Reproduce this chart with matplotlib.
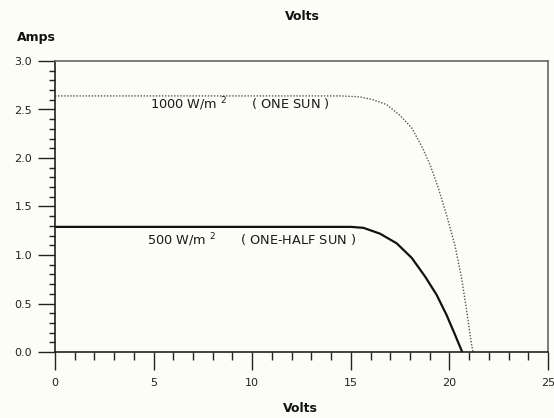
import matplotlib
matplotlib.use("Agg")
import matplotlib.pyplot as plt
from matplotlib.ticker import MultipleLocator, FormatStrFormatter

# Data
v_one_sun = [0.0, 14.45, 15.47, 16.14, 16.82, 17.49, 18.09, 18.6, 19.02, 19.44,
             19.86, 20.28, 20.62, 20.88, 21.13, 21.2]
i_one_sun = [2.64, 2.64, 2.63, 2.60, 2.55, 2.44, 2.31, 2.12, 1.93, 1.69,
             1.41, 1.10, 0.76, 0.42, 0.07, 0.0]

v_half_sun = [0.0, 15.0, 15.64, 16.48, 17.33, 18.09, 18.76, 19.35, 19.86, 20.28, 20.65]
i_half_sun = [1.29, 1.29, 1.28, 1.22, 1.12, 0.97, 0.78, 0.59, 0.38, 0.18, 0.0]

label_one = "1000 W/m $^{2}$      ( ONE SUN )"
label_half = "500 W/m $^{2}$      ( ONE-HALF SUN )"

x_ticks = [0, 5, 10, 15, 20, 25]
y_ticks = [0.0, 0.5, 1.0, 1.5, 2.0, 2.5, 3.0]

plt.rcParams['font.family'] = ['DejaVu Sans']
plt.rcParams['mathtext.fontset'] = 'dejavusans'

bg = '#fdfdf7'
fig = plt.figure(figsize=(5.54, 4.18), dpi=100, facecolor=bg)
ax = fig.add_axes([55/554, 66/418, 493/554, 291/418], facecolor=bg)

ax.plot(v_one_sun, i_one_sun, color='#555555', lw=1.0, ls=(0, (1, 1.2)))
ax.plot(v_half_sun, i_half_sun, color='#111111', lw=1.6)

ax.set_xlim(0, 25)
ax.set_ylim(0, 3.0)

ax.xaxis.set_minor_locator(MultipleLocator(1))
ax.yaxis.set_minor_locator(MultipleLocator(0.1))
ax.set_xticks(x_ticks)
ax.set_yticks(y_ticks)
ax.xaxis.set_major_formatter(FormatStrFormatter('%d'))
ax.yaxis.set_major_formatter(FormatStrFormatter('%.1f'))

ax.tick_params(axis='x', which='major', direction='out', length=13, width=1.0,
               labelsize=8, pad=6, color='#222222', labelcolor='#222222')
ax.tick_params(axis='x', which='minor', direction='out', length=6, width=1.0,
               color='#222222')
ax.tick_params(axis='y', which='major', direction='out', length=12.5, width=1.0,
               labelsize=8, pad=4, color='#222222', labelcolor='#222222')
ax.tick_params(axis='y', which='minor', direction='out', length=4.5, width=1.0,
               color='#222222')

for s in ['left', 'bottom']:
    ax.spines[s].set_color('#222222')
    ax.spines[s].set_linewidth(1.2)
for s in ['top', 'right']:
    ax.spines[s].set_color('#666666')
    ax.spines[s].set_linewidth(1.2)

ax.text(4.8, 2.55, label_one, fontsize=9.3, color='#1a1a1a', va='center', ha='left')
ax.text(4.65, 1.155, label_half, fontsize=9.3, color='#1a1a1a', va='center', ha='left')

fig.text(302/554, 1 - 17/418, "Volts", fontsize=9, fontweight='bold',
         ha='center', va='center', color='#111111')
fig.text(17/554, 1 - 37/418, "Amps", fontsize=9, fontweight='bold',
         ha='left', va='center', color='#111111')
fig.text(300/554, 1 - 408/418, "Volts", fontsize=9, fontweight='bold',
         ha='center', va='center', color='#111111')

fig.savefig("out.png", dpi=100, facecolor=bg)
